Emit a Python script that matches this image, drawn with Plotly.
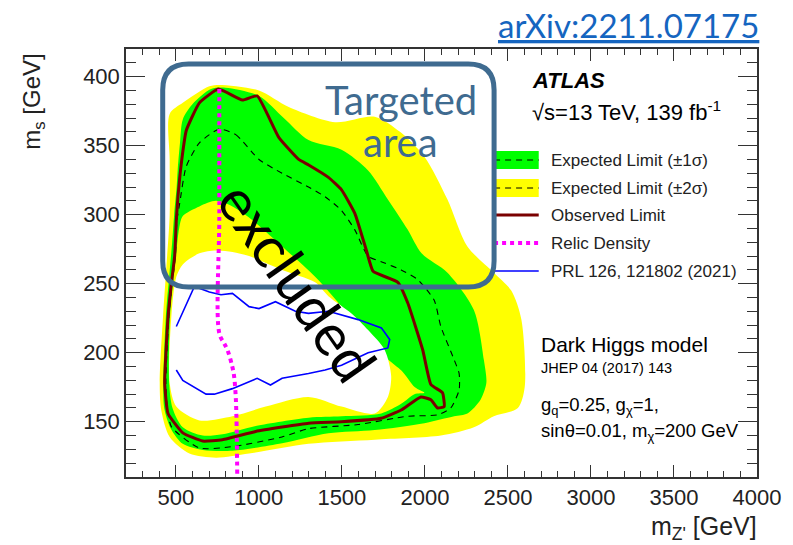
import plotly.graph_objects as go

# ---------------- data (m_Z' [GeV], m_s [GeV]) ----------------
yellow_outer_x = [413, 403, 423, 443, 463, 463, 463, 542, 702, 762, 1001, 1180, 1459, 1698, 1850, 1997, 2136, 2256, 2415, 2520, 2581, 2601, 2560, 2415, 2295, 2096, 1698, 1299, 941, 742, 582, 463, 413]
yellow_outer_y = [158, 178, 226, 262, 300, 340, 373, 381, 393, 394, 390, 378, 367, 371, 360, 342, 311, 277, 258, 245, 224, 175, 160, 154, 146, 140, 137, 134, 127, 124, 127, 139, 158]

green_outer_x = [430, 425, 440, 460, 478, 490, 505, 511, 525, 542, 600, 712, 800, 1001, 1150, 1299, 1498, 1658, 1777, 1897, 1980, 2136, 2295, 2355, 2370, 2335, 2256, 2176, 1997, 1698, 1419, 1140, 841, 662, 542, 470, 430]
green_outer_y = [160, 178, 226, 255, 280, 300, 320, 332, 352, 369, 380, 391, 392, 386, 370, 354, 347, 332, 311, 289, 272, 258, 231, 195, 178, 166, 156, 154, 149, 144, 141.6, 134.4, 129, 129.6, 134, 145, 160]

green_inner_x = [542, 642, 742, 841, 941, 1140, 1339, 1538, 1698, 1780, 1860, 1940, 1997, 1937, 1857, 1737, 1498, 1300, 981, 781, 662, 542, 480, 460, 465, 485, 505, 520, 542]
green_inner_y = [299, 306, 310, 306, 298, 277, 255, 228, 205, 195, 187, 175, 171, 170, 163, 156, 154, 153, 147, 141, 140, 146, 160, 178, 226, 252, 275, 290, 299]

white_x = [503, 542, 642, 742, 841, 941, 1140, 1339, 1419, 1558, 1658, 1758, 1797, 1777, 1698, 1498, 1299, 1041, 841, 642, 503, 463, 473, 503]
white_y = [255, 264, 272, 274, 273, 270, 260, 251, 241, 228.5, 216.5, 202, 183, 168, 156, 161, 168, 161, 154, 151, 161, 178, 226, 255]

expected_x = [762, 861, 1001, 1140, 1299, 1399, 1498, 1578, 1658, 1758, 1857, 1957, 2056, 2096, 2176, 2206, 2206, 2156, 2076, 1897, 1598, 1299, 1140, 841, 642, 473, 445, 440, 458, 478, 497, 507, 523, 563, 642, 762]
expected_y = [362, 358, 340, 330, 320, 313, 303, 289, 270, 265, 260, 253, 238, 219, 195, 185, 173, 160, 155, 154, 148, 145, 139, 132, 131, 146.5, 165, 180, 226, 250, 270, 296, 308, 335, 352, 362]

observed_x = [453, 433, 453, 473, 493, 503, 513, 533, 563, 642, 756, 901, 990, 1120, 1240, 1300, 1419, 1498, 1578, 1648, 1688, 1837, 1897, 1987, 2036, 2106, 2116, 2076, 2036, 1976, 1857, 1737, 1498, 1300, 981, 781, 662, 542, 453]
observed_y = [156, 178, 226, 250, 270, 296, 313, 337, 361, 381, 391, 383, 386, 356, 340, 336, 327, 318, 301, 274, 259, 251, 236, 202, 177, 171, 161, 160, 166, 168, 158.5, 152.5, 150, 149, 143, 137, 136, 142, 156]

relic_x = [762, 762, 762, 790, 811, 840, 851, 860, 865, 870]
relic_y = [391, 300, 214, 207, 202, 190, 183, 170, 154, 110]

prl_x = [503, 612, 702, 772, 841, 941, 1001, 1100, 1220, 1299, 1419, 1598, 1738, 1788, 1777, 1658, 1498, 1399, 1299, 1140, 1070, 990, 841, 732, 682, 542, 503]
prl_y = [219, 248, 244, 242, 243, 233.4, 232, 237, 230, 228.5, 230, 224, 218, 209.6, 203.5, 200, 191, 187.5, 185, 181.5, 176.6, 181.5, 174, 170, 170, 180, 187.5]

x_ticks = [500, 1000, 1500, 2000, 2500, 3000, 3500, 4000]
y_ticks = [150, 200, 250, 300, 350, 400]

legend_labels = ["Expected Limit (\u00b11\u03c3)", "Expected Limit (\u00b12\u03c3)", "Observed Limit",
                 "Relic Density", "PRL 126, 121802 (2021)"]

# ---------------- styling ----------------
W, H = 793, 545
L, R, T, B = 126, 762, 49, 477
YELLOW, GREEN, RED, MAG, BLUE = "#ffff00", "#00ff00", "#7a0000", "#ff00ff", "#0000ff"
BOXC = "#3f6b90"
FONT = "Liberation Sans"


def px(x):
    return (x - L) / (R - L)


def py(y):
    return (B - y) / (B - T)


fig = go.Figure()


def band(xs, ys, color):
    fig.add_trace(go.Scatter(x=xs, y=ys, mode="lines", fill="toself", fillcolor=color,
                             line=dict(width=0, color=color, shape="spline", smoothing=0.8),
                             hoverinfo="skip", showlegend=False))


band(yellow_outer_x, yellow_outer_y, YELLOW)
band(green_outer_x, green_outer_y, GREEN)
band(green_inner_x, green_inner_y, YELLOW)
band(white_x, white_y, "#ffffff")

fig.add_trace(go.Scatter(x=expected_x, y=expected_y, mode="lines",
                         line=dict(color="black", width=1.1, dash="6px,5px", shape="spline", smoothing=0.6),
                         showlegend=False))
fig.add_trace(go.Scatter(x=observed_x, y=observed_y, mode="lines",
                         line=dict(color=RED, width=3, shape="spline", smoothing=0.4),
                         showlegend=False))
fig.add_trace(go.Scatter(x=prl_x, y=prl_y, mode="lines",
                         line=dict(color=BLUE, width=1.6), showlegend=False))
fig.add_trace(go.Scatter(x=relic_x, y=relic_y, mode="lines",
                         line=dict(color=MAG, width=4, dash="4px,4px", shape="spline"),
                         showlegend=False))

shapes = []
annotations = []

# manual legend
leg_x0, leg_x1 = 497, 542
leg_rows = [160, 188, 215, 243, 271]
for i, (yy, lab) in enumerate(zip(leg_rows, legend_labels)):
    if i < 2:
        shapes.append(dict(type="rect", xref="paper", yref="paper", x0=px(leg_x0), x1=px(leg_x1),
                           y0=py(yy + 9), y1=py(yy - 9), fillcolor=GREEN if i == 0 else YELLOW,
                           line=dict(width=0), layer="above"))
        shapes.append(dict(type="line", xref="paper", yref="paper", x0=px(leg_x0), x1=px(leg_x1),
                           y0=py(yy), y1=py(yy), line=dict(color="black", width=1, dash="6px,5px"),
                           layer="above"))
    elif i == 2:
        shapes.append(dict(type="line", xref="paper", yref="paper", x0=px(leg_x0), x1=px(leg_x1),
                           y0=py(yy), y1=py(yy), line=dict(color=RED, width=3), layer="above"))
    elif i == 3:
        shapes.append(dict(type="line", xref="paper", yref="paper", x0=px(leg_x0), x1=px(leg_x1),
                           y0=py(yy), y1=py(yy), line=dict(color=MAG, width=4, dash="4px,4px"),
                           layer="above"))
    else:
        shapes.append(dict(type="line", xref="paper", yref="paper", x0=px(leg_x0), x1=px(leg_x1),
                           y0=py(yy), y1=py(yy), line=dict(color=BLUE, width=1.6), layer="above"))
    annotations.append(dict(xref="paper", yref="paper", x=px(552), y=py(yy), text=lab,
                            showarrow=False, xanchor="left", yanchor="middle",
                            font=dict(family=FONT, size=17, color="#222")))

# rounded "Targeted area" box
bx0, by0, bx1, by1, r = 163, 64, 497, 287, 26
path = (f"M {px(bx0 + r)},{py(by0)} L {px(bx1 - r)},{py(by0)} "
        f"Q {px(bx1)},{py(by0)} {px(bx1)},{py(by0 + r)} L {px(bx1)},{py(by1 - r)} "
        f"Q {px(bx1)},{py(by1)} {px(bx1 - r)},{py(by1)} L {px(bx0 + r)},{py(by1)} "
        f"Q {px(bx0)},{py(by1)} {px(bx0)},{py(by1 - r)} L {px(bx0)},{py(by0 + r)} "
        f"Q {px(bx0)},{py(by0)} {px(bx0 + r)},{py(by0)} Z")
shapes.append(dict(type="path", xref="paper", yref="paper", path=path,
                   line=dict(color=BOXC, width=5), layer="above"))


def note(x, y, text, size, color="black", family=FONT, xanchor="left", angle=0):
    annotations.append(dict(xref="paper", yref="paper", x=px(x), y=py(y), text=text,
                            showarrow=False, xanchor=xanchor, yanchor="middle", textangle=angle,
                            font=dict(family=family, size=size, color=color)))


note(403, 100, "Targeted", 40, BOXC, "Lato", "center")
note(403, 142, "area", 40, BOXC, "Lato", "center")
note(300, 281, "excluded", 58, "black", "Lato", "center", 55)
note(632, 25, "<u>arXiv:2211.07175</u>", 33, "#1565c0", "Lato", "center")

note(533, 80, "<b><i>ATLAS</i></b>", 22)
note(533, 111, "\u221as=13 TeV, 139 fb<sup>-1</sup>", 22)
note(542, 344, "Dark Higgs model", 21)
note(542, 368, "JHEP 04 (2017) 143", 14.5)
note(542, 406, "g<sub>q</sub>=0.25, g<sub>\u03c7</sub>=1,", 18.5)
note(542, 432, "sin\u03b8=0.01, m<sub>\u03c7</sub>=200 GeV", 18.5)

# axis titles
annotations.append(dict(xref="paper", yref="paper", x=px(33), y=py(52), text="m<sub>s</sub> [GeV]",
                        showarrow=False, xanchor="center", yanchor="top", textangle=-90,
                        font=dict(family=FONT, size=24, color="#222")))
annotations.append(dict(xref="paper", yref="paper", x=px(764), y=py(528), text="m<sub>Z'</sub> [GeV]",
                        showarrow=False, xanchor="right", yanchor="middle",
                        font=dict(family=FONT, size=25, color="#222")))

axis_common = dict(showgrid=False, zeroline=False, showline=True, linecolor="#333", linewidth=1.5,
                   ticks="inside", mirror="allticks", tickcolor="#333", tickwidth=1.2,
                   tickfont=dict(family=FONT, size=22, color="#222"))

fig.update_layout(
    width=W, height=H,
    margin=dict(l=L, r=W - R, t=T, b=H - B),
    paper_bgcolor="white", plot_bgcolor="white",
    showlegend=False,
    shapes=shapes, annotations=annotations,
    xaxis=dict(range=[200, 4000], tickvals=x_ticks, ticklen=12,
               minor=dict(dtick=100, tick0=0, ticklen=6, ticks="inside", tickcolor="#333"),
               **axis_common),
    yaxis=dict(range=[110, 420], tickvals=y_ticks, ticklen=19,
               minor=dict(dtick=10, tick0=0, ticklen=10, ticks="inside", tickcolor="#333"),
               **axis_common),
)

fig.write_html("out.html")
